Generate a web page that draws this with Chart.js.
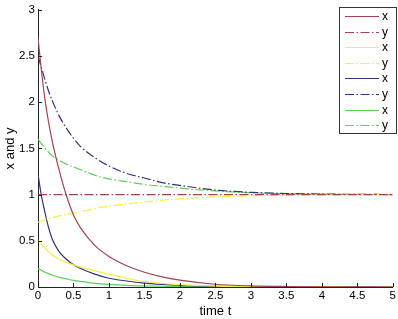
<!DOCTYPE html>
<html>
<head>
<meta charset="utf-8">
<script src="https://cdn.jsdelivr.net/npm/chart.js@4/dist/chart.umd.min.js"></script>
<style>
  html, body { margin: 0; padding: 0; background: #fff; }
  #wrap { width: 398px; height: 319px; }
</style>
</head>
<body>
<div id="wrap"><canvas id="c" width="398" height="319"></canvas></div>
<script>
// time points
const times = [0, 0.05, 0.1, 0.15, 0.2, 0.3, 0.4, 0.5, 0.6, 0.8, 1, 1.25, 1.5, 1.75, 2, 2.5, 3, 3.5, 4, 4.5, 5];

const xRed    = [2.7, 2.33, 2.02, 1.78, 1.58, 1.26, 0.99, 0.78, 0.64, 0.45, 0.33, 0.23, 0.16, 0.11, 0.075, 0.03, 0.012, 0.005, 0.002, 0.001, 0];
const yRed    = [1, 1, 1, 1, 1, 1, 1, 1, 1, 1, 1, 1, 1, 1, 1, 1, 1, 1, 1, 1, 1];
const xYellow = [0.5, 0.46, 0.42, 0.38, 0.35, 0.3, 0.265, 0.24, 0.215, 0.175, 0.14, 0.095, 0.06, 0.04, 0.025, 0.01, 0.004, 0.002, 0.001, 0, 0];
const yYellow = [0.7, 0.715, 0.73, 0.74, 0.75, 0.77, 0.785, 0.8, 0.815, 0.85, 0.875, 0.9, 0.92, 0.94, 0.955, 0.975, 0.988, 0.994, 0.997, 0.999, 1];
const xBlue   = [1.22, 0.98, 0.8, 0.64, 0.52, 0.38, 0.3, 0.24, 0.2, 0.14, 0.095, 0.065, 0.042, 0.028, 0.018, 0.007, 0.003, 0.001, 0, 0, 0];
const yBlue   = [2.5, 2.37, 2.24, 2.12, 2.02, 1.85, 1.72, 1.61, 1.52, 1.4, 1.31, 1.23, 1.18, 1.13, 1.1, 1.05, 1.025, 1.012, 1.006, 1.003, 1.001];
const xGreen  = [0.2, 0.18, 0.16, 0.145, 0.13, 0.105, 0.088, 0.072, 0.06, 0.04, 0.028, 0.018, 0.012, 0.008, 0.005, 0.002, 0.001, 0, 0, 0, 0];
const yGreen  = [1.6, 1.55, 1.5, 1.46, 1.42, 1.37, 1.33, 1.3, 1.27, 1.21, 1.17, 1.14, 1.11, 1.09, 1.07, 1.04, 1.02, 1.01, 1.005, 1.002, 1.001];

const legendLabels = ["x", "y", "x", "y", "x", "y", "x", "y"];

//set colors
let redColor = "#a0454f";
let yellowColor = "#f2f23c";
let blueColor = "#33337a";
let greenColor = "#5ccf5c";
const dashDot = [9, 2.5, 1.5, 2.5];
const fontFam = "'Liberation Sans', Arial, sans-serif";

function pts(vals) {
    return times.map((t, i) => ({ x: t, y: vals[i] }));
}

function series(label, vals, color, dash) {
    return {
        label: label,
        data: pts(vals),
        borderColor: color,
        backgroundColor: color,
        borderWidth: 1.2,
        borderDash: dash,
        pointRadius: 0,
        fill: false,
        cubicInterpolationMode: 'monotone'
    };
}

let data = {
    datasets: [
        series(legendLabels[0], xRed, redColor, []),
        series(legendLabels[1], yRed, redColor, dashDot),
        series(legendLabels[2], xYellow, yellowColor, []),
        series(legendLabels[3], yYellow, yellowColor, dashDot),
        series(legendLabels[4], xBlue, blueColor, []),
        series(legendLabels[5], yBlue, blueColor, dashDot),
        series(legendLabels[6], xGreen, greenColor, []),
        series(legendLabels[7], yGreen, greenColor, dashDot)
    ]
};

// inward tick marks like matlab
const innerTicks = {
    id: 'innerTicks',
    afterDraw(chart) {
        const ctx = chart.ctx;
        const a = chart.chartArea;
        const xs = chart.scales.x, ys = chart.scales.y;
        ctx.save();
        ctx.strokeStyle = "#222";
        ctx.lineWidth = 1;
        ctx.beginPath();
        xs.ticks.forEach(t => {
            const px = Math.round(xs.getPixelForValue(t.value)) + 0.5;
            ctx.moveTo(px, a.bottom);
            ctx.lineTo(px, a.bottom - 4);
        });
        ys.ticks.forEach(t => {
            const py = Math.round(ys.getPixelForValue(t.value)) + 0.5;
            ctx.moveTo(a.left, py);
            ctx.lineTo(a.left + 4, py);
        });
        ctx.stroke();
        ctx.restore();
    }
};

// boxed legend in the top right corner
const boxLegend = {
    id: 'boxLegend',
    afterDraw(chart) {
        const ctx = chart.ctx;
        const left = 339, top = 7, w = 57, h = 126;
        const rowH = 15.6;
        ctx.save();
        ctx.fillStyle = "#fff";
        ctx.fillRect(left, top, w, h);
        ctx.strokeStyle = "#333";
        ctx.lineWidth = 1;
        ctx.strokeRect(left + 0.5, top + 0.5, w, h);
        ctx.font = "12px " + fontFam;
        ctx.textBaseline = "middle";
        chart.data.datasets.forEach((ds, i) => {
            const y = Math.round(top + 9 + i * rowH) + 0.5;
            ctx.strokeStyle = ds.borderColor;
            ctx.lineWidth = 1.2;
            ctx.setLineDash(ds.borderDash);
            ctx.beginPath();
            ctx.moveTo(left + 6, y);
            ctx.lineTo(left + 40, y);
            ctx.stroke();
            ctx.setLineDash([]);
            ctx.fillStyle = "#000";
            ctx.fillText(ds.label, left + 43, y);
        });
        ctx.restore();
    }
};

const ctx = document.getElementById("c");

new Chart(ctx, {
    type: 'line',
    data: data,
    plugins: [innerTicks, boxLegend],
    options: {
        responsive: false,
        animation: false,
        layout: { padding: { top: 8, right: 5, left: 0, bottom: 0 } },
        plugins: {
            legend: { display: false },
            tooltip: { enabled: false }
        },
        scales: {
            x: {
                type: 'linear',
                min: 0,
                max: 5,
                ticks: {
                    stepSize: 0.5,
                    color: "#000",
                    padding: 2,
                    maxRotation: 0,
                    callback: v => String(v),
                    font: { size: 11.5, family: fontFam }
                },
                grid: { drawOnChartArea: false, drawTicks: false },
                border: { color: "#222", width: 1 },
                title: {
                    display: true,
                    text: "time t",
                    color: "#000",
                    padding: { top: 1, bottom: 0 },
                    font: { size: 13, family: fontFam }
                },
                afterFit: s => { s.height = 32; }
            },
            y: {
                min: 0,
                max: 3,
                ticks: {
                    stepSize: 0.5,
                    color: "#000",
                    padding: 3,
                    callback: v => String(v),
                    font: { size: 11.5, family: fontFam }
                },
                grid: { drawOnChartArea: false, drawTicks: false },
                border: { color: "#222", width: 1 },
                title: {
                    display: true,
                    text: "x and y",
                    color: "#000",
                    padding: { top: 3, bottom: 2 },
                    font: { size: 13, family: fontFam }
                },
                afterFit: s => { s.width = 38; }
            }
        }
    }
});
</script>
</body>
</html>
